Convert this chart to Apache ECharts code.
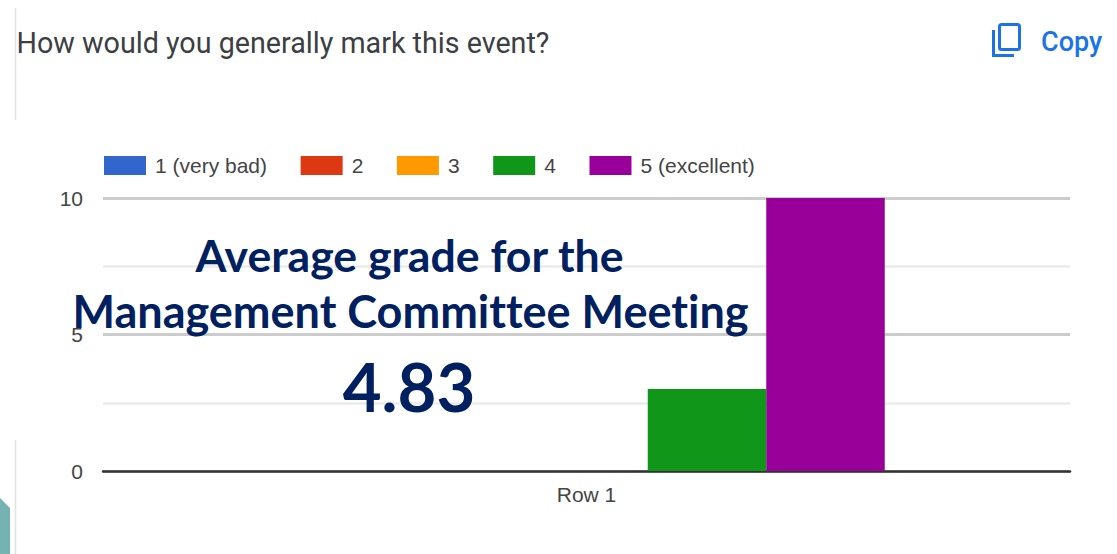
<!DOCTYPE html>
<html><head><meta charset="utf-8">
<style>html,body{margin:0;padding:0;background:#fff}#c{width:1117px;height:554px}#c text{font-variant-ligatures:none !important}</style>
<script src="https://cdn.jsdelivr.net/npm/echarts@6/dist/echarts.min.js"></script>
</head><body><div id="c"></div>
<script>
const categories = ['Row 1'];
const seriesNames = ['1 (very bad)', '2', '3', '4', '5 (excellent)'];
const seriesColors = ['#3366cc', '#dc3912', '#ff9900', '#109618', '#990099'];
const values1 = [0];
const values2 = [0];
const values3 = [0];
const values4 = [3];
const values5 = [10];
const allValues = [values1, values2, values3, values4, values5];
const heading = 'How would you generally mark this event?';
const copyLabel = 'Copy';
const overlayLine1 = 'Average grade for the';
const overlayLine2 = 'Management Committee Meeting';
const overlayScore = '4.83';

const chart = echarts.init(document.getElementById('c'), null, {renderer: 'svg'});
chart.setOption({
  animation: false,
  backgroundColor: '#fff',
  grid: [
    {left: 103, right: 47, top: 198, bottom: 83},
    {left: 105, right: 45, top: 198, bottom: 83}
  ],
  legend: {
    left: 99, top: 150, itemWidth: 42, itemHeight: 19, itemGap: 33.6,
    icon: 'rect',
    data: seriesNames,
    textStyle: {fontFamily: 'Liberation Sans', fontSize: 21, color: '#444', padding: [0, 0, 0, 4]}
  },
  xAxis: [{
    type: 'category', data: categories, gridIndex: 0,
    axisLine: {lineStyle: {color: '#333', width: 2.5}},
    axisTick: {show: false},
    axisLabel: {fontFamily: 'Liberation Sans', fontSize: 21, color: '#444', margin: 13}
  }, {
    type: 'category', data: categories, gridIndex: 1, show: false
  }],
  yAxis: [{
    type: 'value', min: 0, max: 10, interval: 5, gridIndex: 0,
    axisLine: {show: false}, axisTick: {show: false},
    axisLabel: {fontFamily: 'Liberation Sans', fontSize: 21, color: '#444', margin: 20},
    splitLine: {lineStyle: {color: '#cccccc', width: 3}},
    minorTick: {show: false, splitNumber: 2},
    minorSplitLine: {show: true, lineStyle: {color: '#ebebeb', width: 2.5}}
  }, {
    type: 'value', min: 0, max: 10, interval: 5, gridIndex: 1, show: false
  }],
  series: seriesNames.map((name, i) => ({
    name, type: 'bar', data: allValues[i], barWidth: 118.5, barGap: 0,
    xAxisIndex: 1, yAxisIndex: 1,
    itemStyle: {color: seriesColors[i]}
  })),
  graphic: [
    {type: 'line', z: 1, shape: {x1: 15.5, y1: 8, x2: 15.5, y2: 120}, style: {stroke: '#e2e2e2', lineWidth: 1.5}},
    {type: 'line', z: 1, shape: {x1: 15.5, y1: 440, x2: 15.5, y2: 554}, style: {stroke: '#e2e2e2', lineWidth: 1.5}},
    {type: 'polygon', z: 1, shape: {points: [[0, 498], [10, 508], [10, 554], [0, 554]]}, style: {fill: '#74b2b4'}},
    {type: 'text', z: 10, style: {x: 16.5, y: 43, text: heading, fill: '#3c4043', font: '28.7px Roboto', verticalAlign: 'middle'}},
    {type: 'rect', z: 10, shape: {x: 999.5, y: 24.5, width: 20, height: 25, r: 2}, style: {fill: 'none', stroke: '#1a73e8', lineWidth: 3}},
    {type: 'polyline', z: 10, shape: {points: [[993.5, 30], [993.5, 55.5], [1014, 55.5]]}, style: {fill: 'none', stroke: '#1a73e8', lineWidth: 3}},
    {type: 'text', z: 10, style: {x: 1041, y: 42, text: copyLabel, fill: '#1a73e8', font: '500 27px Roboto', verticalAlign: 'middle'}},
    {type: 'text', z: 20, style: {x: 409.5, y: 254, text: overlayLine1, fill: '#002060', font: 'bold 44.6px Lato', align: 'center', verticalAlign: 'middle'}},
    {type: 'text', z: 20, style: {x: 410.5, y: 311, text: overlayLine2, fill: '#002060', font: 'bold 45px Lato', align: 'center', verticalAlign: 'middle'}},
    {type: 'text', z: 20, style: {x: 409, y: 386, text: overlayScore, fill: '#002060', font: 'bold 67px Lato', align: 'center', verticalAlign: 'middle'}}
  ]
});
</script></body></html>
